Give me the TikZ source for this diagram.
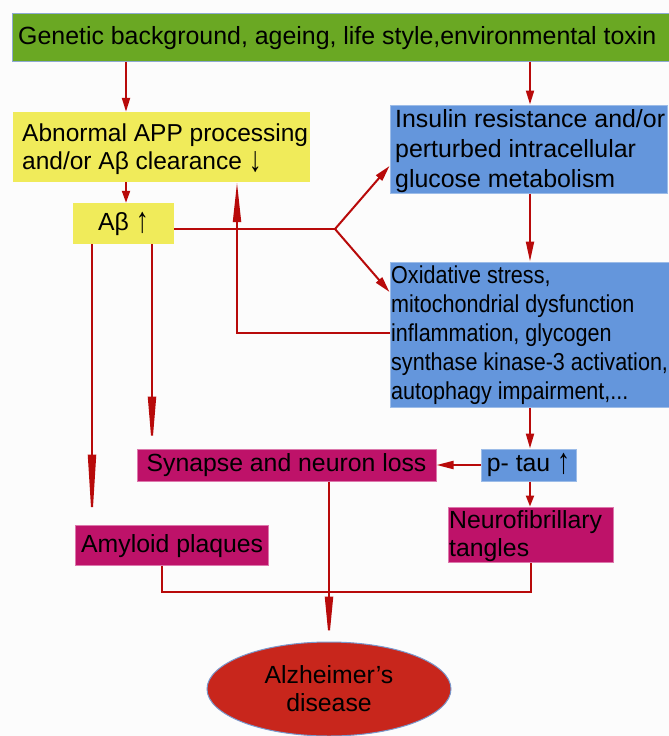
\documentclass[tikz,border=0pt]{standalone}
\usepackage{fontspec}
\usepackage{graphicx}
\setmainfont{Liberation Sans}
\usetikzlibrary{arrows.meta,shapes.geometric}
\definecolor{bg}{HTML}{FCFCFC}
\definecolor{gfill}{HTML}{6AA823}
\definecolor{gline}{HTML}{8EAAD2}
\definecolor{yfill}{HTML}{F0EB5A}
\definecolor{bfill}{HTML}{6496DC}
\definecolor{bline}{HTML}{9CBCE8}
\definecolor{mfill}{HTML}{BE1269}
\definecolor{mline}{HTML}{DC78AC}
\definecolor{efill}{HTML}{C8261C}
\definecolor{eline}{HTML}{7A98CC}
\definecolor{lred}{HTML}{B80A0A}
\newcommand{\uparr}{\raisebox{-0.08em}{\scalebox{1.05}[1.45]{↑}}}
\newcommand{\downarr}{\raisebox{-0.1em}{\scalebox{1.05}[1.45]{↓}}}
\tikzset{
  gbox/.style={fill=gfill, draw=gline, line width=1pt, inner sep=0pt},
  ybox/.style={fill=yfill, inner sep=0pt},
  bbox/.style={fill=bfill, draw=bline, line width=1pt, inner sep=0pt},
  mbox/.style={fill=mfill, draw=mline, line width=1pt, inner sep=0pt, font=\fontsize{24.8}{28}\selectfont},
  txt/.style={inner sep=0pt, align=left, font=\fontsize{24.8}{28}\selectfont},
  ctxt/.style={inner sep=0pt, font=\fontsize{24.8}{28}\selectfont},
  lnk/.style={draw=lred, line width=2pt},
  arr/.style={lnk, -{Triangle[length=#1,width=8pt]}},
  arr/.default=14pt
}
\begin{document}
\begin{tikzpicture}[x=1pt,y=-1pt]
\useasboundingbox (0,0) rectangle (669,736);
\fill[bg] (0,0) rectangle (669,736);

% boxes
\node[gbox, minimum width=657pt, minimum height=48pt] (gen) at (340.5,37) {};
\node[txt, anchor=west, font=\fontsize{24.9}{28}\selectfont] (gent) at (18,38) {Genetic background, ageing, life style,environmental toxin};

\node[ybox, minimum width=297pt, minimum height=70pt] (apb) at (161.5,147) {};
\node[txt, anchor=west, font=\fontsize{24.5}{28}\selectfont] (apbt) at (22,149) {Abnormal APP processing\\and/or Aβ clearance \downarr};

\node[ybox, ctxt, minimum width=101pt, minimum height=41pt] (ab) at (123.5,223.5) {Aβ \uparr};

\node[bbox, minimum width=277pt, minimum height=88pt] (ins) at (528.5,149) {};
\node[txt, anchor=west, font=\fontsize{24.9}{30}\selectfont] (inst) at (395,151) {Insulin resistance and/or\\perturbed intracellular\\glucose metabolism};

\node[bbox, minimum width=279pt, minimum height=145pt] (ox) at (529.5,334.5) {};
\node[txt, anchor=west, font=\fontsize{24.5}{29}\selectfont] (oxt) at (391,336) {\scalebox{0.88}[1]{\begin{tabular}{@{}l@{}}Oxidative stress,\\mitochondrial dysfunction\\inflammation, glycogen\\synthase kinase-3 activation,\\autophagy impairment,...\end{tabular}}};

\node[bbox, ctxt, minimum width=95pt, minimum height=32pt] (ptau) at (528.5,465) {p- tau \uparr};

\node[mbox, minimum width=299pt, minimum height=32pt] (syn) at (286.5,465) {Synapse and neuron loss};

\node[mbox, minimum width=165pt, minimum height=55pt] (nft) at (530.5,534.5) {};
\node[txt, anchor=west] (nftt) at (449,536) {Neurofibrillary\\tangles};

\node[mbox, minimum width=193pt, minimum height=40pt] (amy) at (171.5,545) {};
\node[txt, anchor=west] (amyt) at (81,546) {Amyloid plaques};

\node[ellipse, fill=efill, draw=eline, line width=1pt, inner sep=0pt, minimum width=244pt, minimum height=94pt, align=center, font=\fontsize{24.8}{28}\selectfont] (ad) at (329,689) {Alzheimer’s\\disease};

% connectors
\draw[arr=14pt] (gen.south -| 126,0) -- (apb.north -| 126,0);
\draw[arr=14pt] (gen.south -| 530,0) -- (ins.north -| 530,0);
\draw[arr=12pt] (apb.south -| 126,0) -- (ab.north -| 126,0);

\coordinate (fork) at (335,229);
\draw[lnk] (ab.east |- 0,229) -- (fork);
\draw[arr=16pt] (fork) -- (ins.west |- 0,166);
\draw[arr=16pt] (fork) -- (ox.west |- 0,292);

\draw[arr=40pt] (ox.west |- 0,333) -| (apb.south -| 237,0);

\draw[arr=20pt] (ins.south -| 530,0) -- (ox.north -| 530,0);
\draw[arr=15pt] (ox.south -| 530,0) -- (ptau.north -| 530,0);
\draw[arr=17pt] (ptau.west) -- (syn.east);
\draw[arr=11pt] (ptau.south -| 530,0) -- (nft.north -| 530,0);

\draw[arr=52pt] (ab.south -| 152,0) -- (syn.north -| 152,0);
\draw[arr=70pt] (ab.south -| 92,0) -- (amy.north -| 92,0);

\draw[lnk] (amy.south -| 162,0) |- (nft.south |- 0,592) -- (nft.south);
\draw[arr=45pt] (syn.south -| ad.north) -- (ad.north);
\end{tikzpicture}
\end{document}
